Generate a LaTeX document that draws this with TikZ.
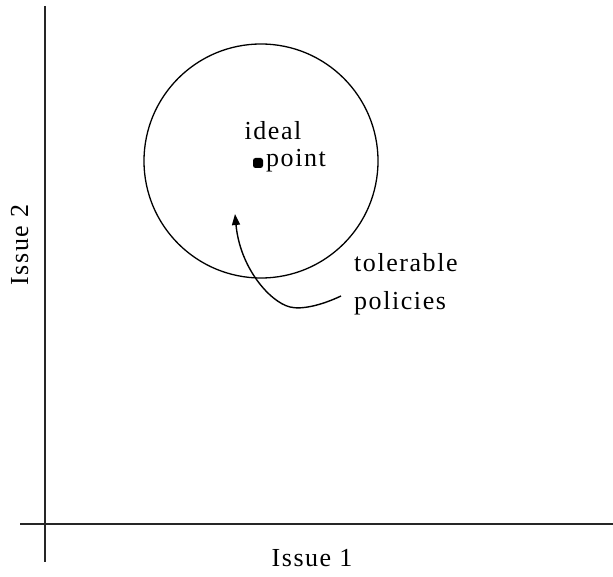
\documentclass[tikz,border=0pt]{standalone}
\usepackage{fontspec}
\setmainfont[LetterSpace=6]{Liberation Serif}
\usetikzlibrary{arrows.meta}
\begin{document}
\begin{tikzpicture}[x=1pt,y=-1pt,
  axis/.style={line width=2.2pt,draw=black!85},
  lbl/.style={font=\fontsize{26}{30}\selectfont,inner sep=0pt},
  curve/.style={line width=1.4pt}]
\useasboundingbox (0,0) rectangle (613,577);
% axes
\coordinate (vtop) at (45,6);
\coordinate (vbot) at (45,562);
\coordinate (hl) at (20,524);
\coordinate (hr) at (613,524);
\draw[axis] (vtop) -- (vbot);
\draw[axis] (hl) -- (hr);
% circle
\node[draw,circle,line width=1.3pt,minimum size=234pt,inner sep=0pt] (circ) at (261,161) {};
% ideal point
\node[rectangle,rounded corners=2.5pt,fill=black,minimum size=10pt,inner sep=0pt] (ip) at (258,163) {};
\node[lbl,anchor=base] (ideal) at (273,140) {ideal};
\node[lbl,anchor=base west] (point) at (266,167) {point};
% labels
\node[lbl,anchor=base west] (tol) at (354,272) {tolerable};
\node[lbl,anchor=base west] (pol) at (354,309) {policies};
\node[lbl,anchor=base] (i1) at (312,566) {Issue 1};
\node[lbl,anchor=base,rotate=90] (i2) at (28,245) {Issue 2};
% arrow
\coordinate (tip) at (235,214);
\coordinate (start) at (341,296);
\draw[curve,-{Triangle[length=11pt,width=8pt]}] (start) .. controls (322,305) and (302,310) .. (290,307)
  .. controls (270,302) and (240,268) .. (tip);
\end{tikzpicture}
\end{document}
